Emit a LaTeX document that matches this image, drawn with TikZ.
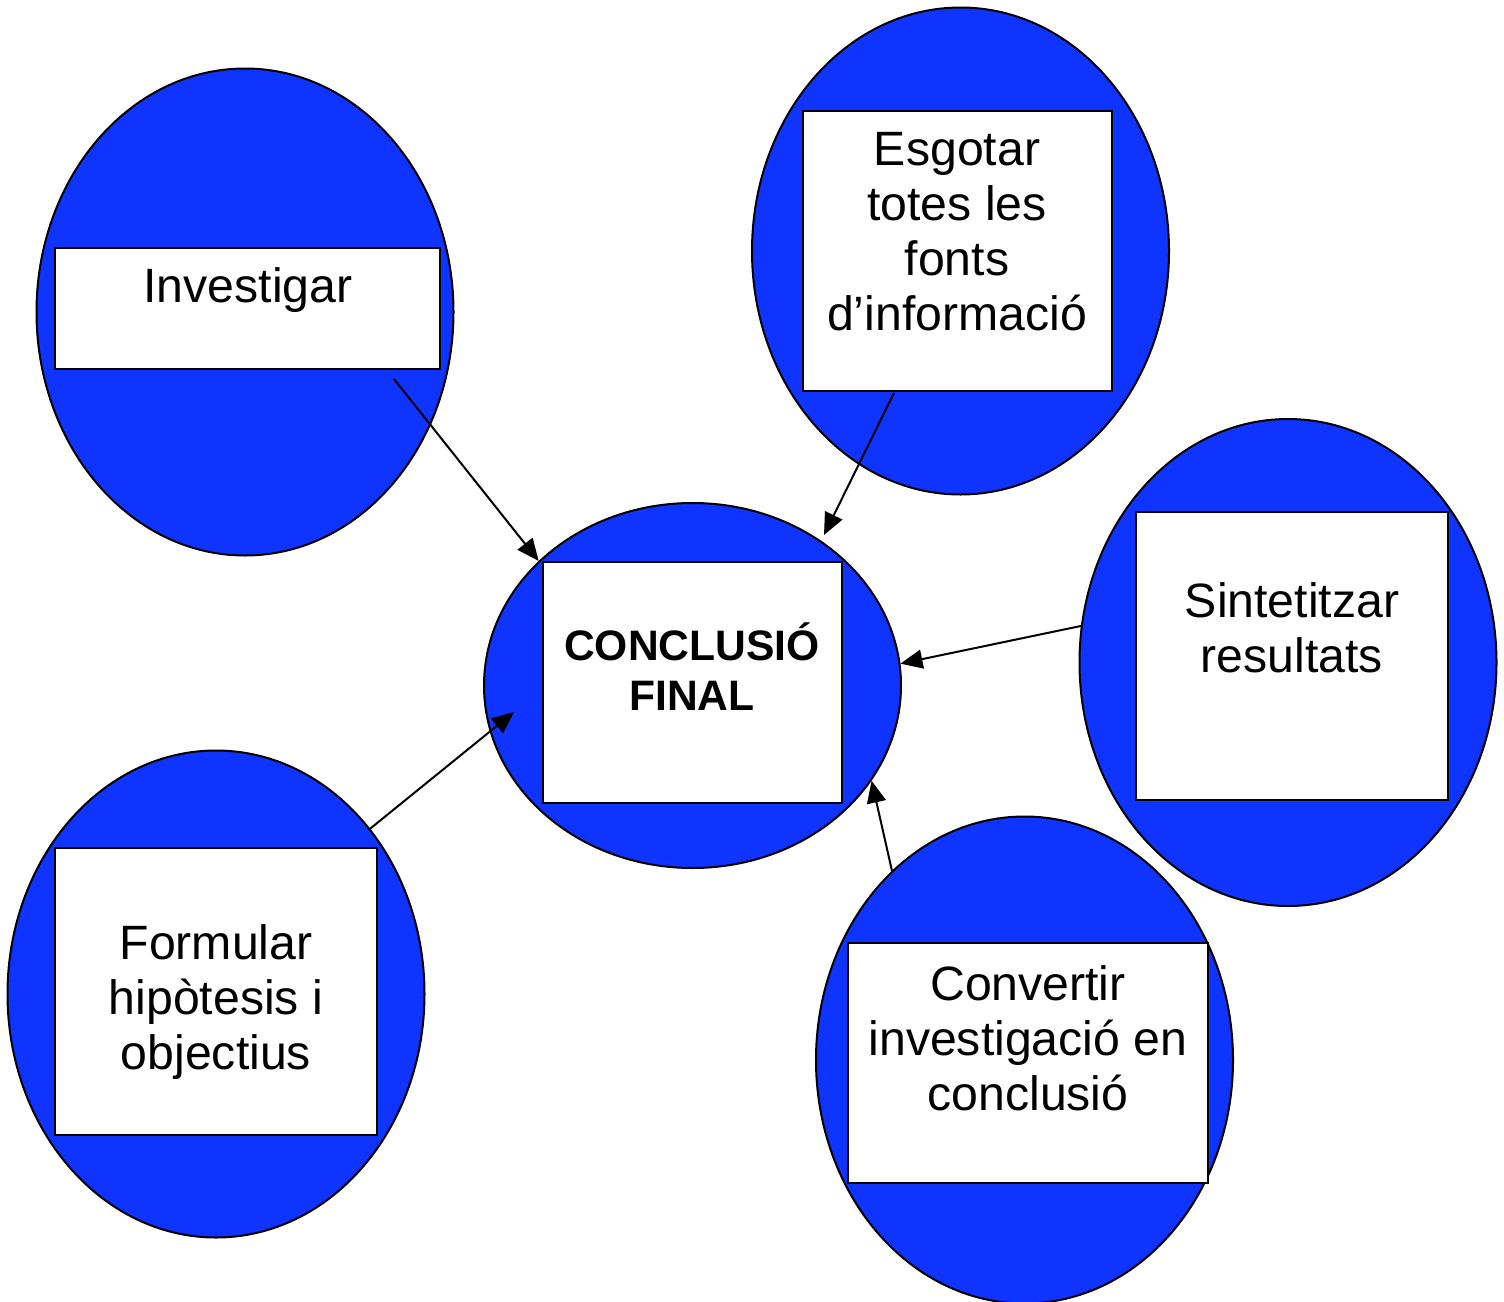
\documentclass[tikz,border=0pt]{standalone}
\usepackage{fontspec}
\setmainfont{Liberation Sans}
\usetikzlibrary{shapes.geometric}
\usetikzlibrary{calc}
\usetikzlibrary{arrows.meta}
\definecolor{blobblue}{RGB}{16,52,255}
\tikzset{
  blob/.style={ellipse,draw,fill=blobblue,line width=1pt,inner sep=0pt,
               minimum width=208.5pt,minimum height=243.5pt},
  card/.style={rectangle,draw,fill=white,line width=1pt,inner sep=0pt},
  txt/.style={align=center,inner sep=0pt,font=\fontsize{24.1}{27.5}\selectfont},
  bigtxt/.style={align=center,inner sep=0pt,font=\bfseries\fontsize{21.3}{25}\selectfont},
  link/.style={->,line width=1pt}
}
\begin{document}
\begin{tikzpicture}[>={Triangle[length=11pt,width=9.5pt]},x=0.5pt,y=-0.5pt]
                        \useasboundingbox (0,0) rectangle (1504,1301);
                        \node[blob] (inv) at (245,312) {};
                        \node[blob] (esg) at (960.5,251) {};
                        \node[blob] (sin) at (1288,662.5) {};
                        \node[blob,minimum height=182.5pt] (concl) at (692.5,685.5) {};
                        \node[blob] (for) at (216,994) {};
                        \node[blob] (cnv) at (1024.5,1060) {};
                        \node[card,minimum width=192.5pt,minimum height=60.5pt] (invbox) at (247.5,308.5) {};
                        \node[card,minimum width=154.5pt,minimum height=140pt] (esgbox) at (957.5,251) {};
                        \node[card,minimum width=156pt,minimum height=144pt] (sinbox) at (1292,656) {};
                        \node[card,minimum width=149.5pt,minimum height=120.5pt] (conbox) at (692.5,682.5) {};
                        \node[card,minimum width=161pt,minimum height=143.5pt] (forbox) at (216,991.5) {};
                        \node[card,minimum width=180pt,minimum height=120pt] (cnvbox) at (1028,1063) {};
                        \node[txt] (invtxt) at (248,290) {Investigar};
                        \node[txt] (esgtxt) at (957,232) {Esgotar\\totes les\\fonts\\d’informació};
                        \node[txt] (sintxt) at (1292,627.5) {Sintetitzar\\resultats};
                        \node[bigtxt] (contxt) at (692,667) {CONCLUSIÓ\\FINAL};
                        \node[txt] (fortxt) at (216,1002) {Formular\\hipòtesis i\\objectius};
                        \node[txt] (cnvtxt) at (1028,1038) {Convertir\\investigació en\\conclusió};
                        \draw[link] ($(invbox.south)+(146.5,9)$) -- (concl.141);
                        \draw[link] ($(esgbox.south)+(-63.5,1)$) -- ($(concl.center)+(131.5,-150.5)$);
                        \draw[link] (sin.170) -- (concl.6);
                        \draw[link] (for.47) -- ($(concl.center)+(-178.5,26.5)$);
                        \draw[link] (cnv.125) -- (concl.-28);
                    \end{tikzpicture}
\end{document}
